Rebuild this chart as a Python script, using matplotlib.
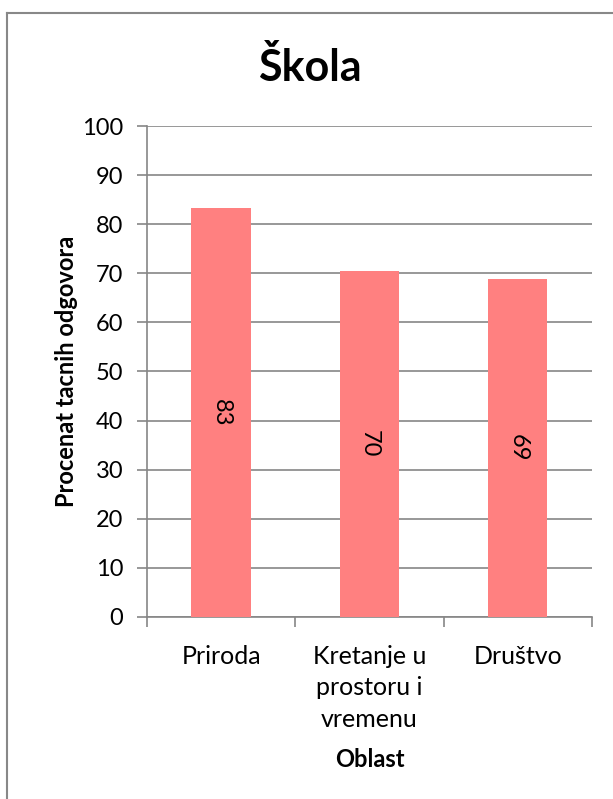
import matplotlib.pyplot as plt
from matplotlib.lines import Line2D

# podaci
oblasti = ['Priroda', 'Kretanje u\nprostoru i\nvremenu', 'Društvo']
procenti = [83.3, 70.5, 68.9]
oznake = ['83', '70', '69']

plt.rcParams['font.family'] = ['Lato', 'DejaVu Sans']

fig = plt.figure(figsize=(6.13, 7.99), dpi=100)
ax = fig.add_axes([0.2398, 0.2278, 0.7259, 0.6145])

x = range(len(oblasti))
bars = ax.bar(x, procenti, width=0.4, color='#FF8080', zorder=3)

for b, t in zip(bars, oznake):
    ax.text(b.get_x() + b.get_width() / 2, b.get_height() / 2, t,
            rotation=270, ha='center', va='center', fontsize=17, zorder=4)

ax.set_xlim(-0.5, 2.5)
ax.set_ylim(0, 100)
ax.set_yticks(range(0, 101, 10))
ax.set_xticks(list(x))
ax.set_xticklabels(oblasti, fontsize=18, linespacing=1.45, va='top')
ax.set_xticks([-0.5, 0.5, 1.5, 2.5], minor=True)
ax.tick_params(axis='x', which='major', length=0, pad=20)
ax.tick_params(axis='x', which='minor', length=7, color='#868686', width=1.2, direction='out')
ax.tick_params(axis='y', labelsize=17, length=7, color='#868686', width=1.2, pad=10)

ax.grid(axis='y', color='#868686', linewidth=1.2, zorder=0)
for s in ['top', 'right']:
    ax.spines[s].set_visible(False)
for s in ['left', 'bottom']:
    ax.spines[s].set_color('#868686')
    ax.spines[s].set_linewidth(1.2)

ax.set_xlabel('Oblast', fontsize=17, fontweight='bold', labelpad=12)
ax.set_ylabel('Procenat tacnih odgovora', fontsize=17, fontweight='bold', labelpad=3)

fig.text(0.505, 0.916, 'Škola', ha='center', va='center', fontsize=31, fontweight='bold')

# okvir grafikona
fig.add_artist(Line2D([7 / 613, 7 / 613], [0, 1 - 13 / 799], color='#888888', linewidth=1.5))
fig.add_artist(Line2D([7 / 613, 1], [1 - 13 / 799, 1 - 13 / 799], color='#888888', linewidth=1.5))

fig.savefig('out.png', dpi=100)
